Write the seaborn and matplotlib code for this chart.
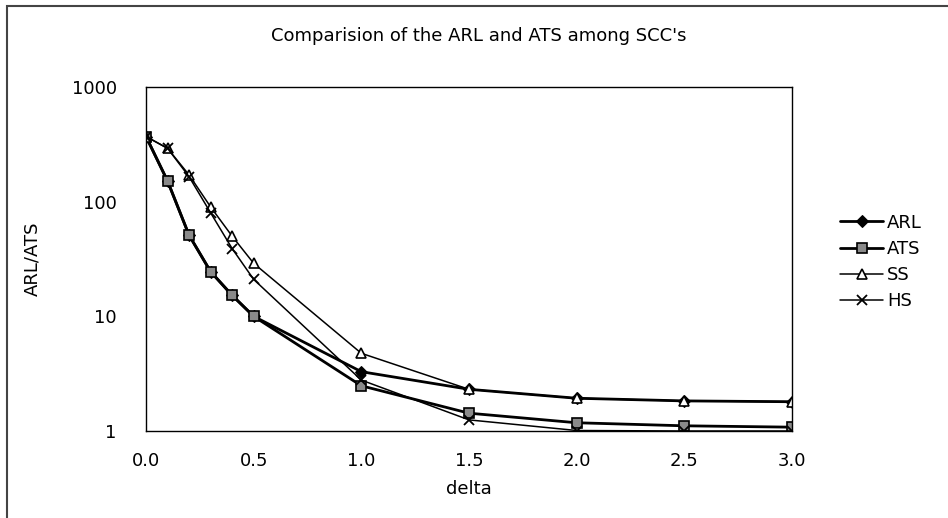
import pandas as pd
import seaborn as sns
from matplotlib import pyplot as plt
from matplotlib.patches import Rectangle

# values
delta = [0.0, 0.1, 0.2, 0.3, 0.4, 0.5, 1.0, 1.5, 2.0, 2.5, 3.0]
arl = [370, 152, 51, 24.6, 15.3, 10.0, 3.29, 2.31, 1.93, 1.83, 1.80]
ats = [370, 151, 51, 24.5, 15.2, 10.0, 2.48, 1.43, 1.18, 1.11, 1.08]
ss = [370, 292, 171, 90, 50, 29, 4.76, 2.31, 1.93, 1.83, 1.80]
hs = [370, 292, 165, 80, 39, 21, 2.78, 1.25, 1.01, 1.0, 1.0]

series_names = ["ARL", "ATS", "SS", "HS"]
yticks = [1, 10, 100, 1000]
xticks = [0.0, 0.5, 1.0, 1.5, 2.0, 2.5, 3.0]


def main():
    df = pd.DataFrame({"delta": delta, "ARL": arl, "ATS": ats, "SS": ss, "HS": hs})
    df = df.melt(id_vars="delta", var_name="series", value_name="value")

    sns.set_theme(style="white")
    plt.rcParams["font.family"] = ["DejaVu Sans"]
    plt.rcParams["text.color"] = "black"
    plt.rcParams["axes.labelcolor"] = "black"
    plt.rcParams["xtick.color"] = "black"
    plt.rcParams["ytick.color"] = "black"

    styles = {
        "ARL": dict(marker="D", markersize=6, linewidth=2.0, markerfacecolor="black", markeredgecolor="black"),
        "ATS": dict(marker="s", markersize=7, linewidth=2.0, markerfacecolor="#8a8a8a", markeredgecolor="black", markeredgewidth=1.2),
        "SS": dict(marker="^", markersize=7, linewidth=1.1, markerfacecolor="white", markeredgecolor="black", markeredgewidth=1.2),
        "HS": dict(marker="x", markersize=7, linewidth=1.1, markeredgecolor="black", markeredgewidth=1.3),
    }

    fig = plt.figure(figsize=(9.48, 5.18), dpi=100)
    ax = fig.add_axes([146 / 948, 87 / 518, (792 - 146) / 948, (431 - 87) / 518])

    for name in series_names:
        sns.lineplot(data=df[df["series"] == name], x="delta", y="value", color="black",
                     label=name, ax=ax, legend=False, **styles[name])

    ax.set_yscale("log")
    ax.set_ylim(1, 1000)
    ax.set_xlim(0, 3)
    ax.set_yticks(yticks)
    ax.set_yticklabels([str(t) for t in yticks])
    ax.set_xticks(xticks)
    ax.set_xticklabels(["%.1f" % t for t in xticks])
    ax.minorticks_off()
    ax.tick_params(axis="y", length=0, pad=21, labelsize=13)
    ax.tick_params(axis="x", length=0, pad=15, labelsize=13)
    for s in ax.spines.values():
        s.set_color("black")
        s.set_linewidth(1.0)

    ax.set_xlabel("delta", fontsize=13, labelpad=7)
    ax.set_ylabel("ARL/ATS", fontsize=13, labelpad=22)
    fig.text(479 / 948, 1 - 36 / 518, "Comparision of the ARL and ATS among SCC's",
             ha="center", va="center", fontsize=13)

    handles, labels = ax.get_legend_handles_labels()
    fig.legend(handles, labels, loc="center left", bbox_to_anchor=(831 / 948, 1 - 262 / 518),
               frameon=False, fontsize=13, handlelength=2.4, handletextpad=0.2,
               labelspacing=0.45, borderpad=0)

    fig.add_artist(Rectangle((7 / 948, -0.05), 1.0, 1 - 6 / 518 + 0.05, transform=fig.transFigure,
                             fill=False, edgecolor="#444444", linewidth=1.5))

    plt.savefig("out.png", dpi=100)


if __name__ == "__main__":
    main()
